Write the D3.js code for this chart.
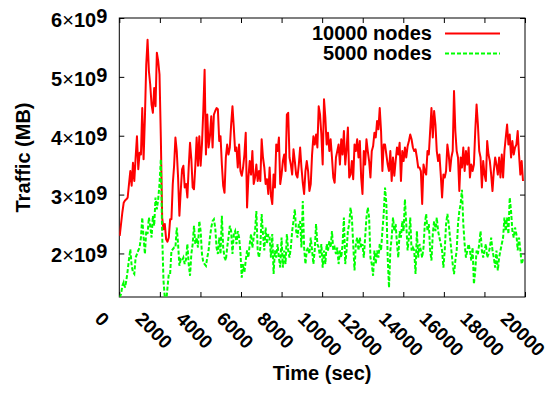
<!DOCTYPE html>
<html>
<head>
<meta charset="utf-8">
<script src="https://cdn.jsdelivr.net/npm/d3@7"></script>
<style>
  body { margin: 0; background: #fff; }
  text { font-family: "Liberation Sans", Arial, Helvetica, sans-serif; font-weight: bold; font-size: 20px; fill: #000; }
</style>
</head>
<body>
<div id="chart"></div>
<script>
// series names (legend order)
const seriesNames = ["10000 nodes", "5000 nodes"];
const xTicks = [0, 2000, 4000, 6000, 8000, 10000, 12000, 14000, 16000, 18000, 20000];
const yTicks = [2, 3, 4, 5, 6]; // x 10^9 MB

// samples are evenly spaced in time (sec)
const firstSample = 20, sampleStep = 65.4;

// traffic in units of 10^9 MB
const traffic10000 = [
  2.30, 2.50, 2.70, 2.86, 2.90, 2.92, 2.95, 3.18, 3.40, 3.15,
  3.54, 3.23, 3.63, 3.99, 3.43, 3.71, 3.68, 4.47, 3.60, 4.31,
  5.21, 5.63, 5.10, 4.87, 4.53, 4.39, 4.81, 4.50, 5.41, 5.27,
  5.04, 3.97, 2.61, 2.41, 2.50, 2.24, 2.20, 2.27, 2.58, 2.58,
  3.18, 3.49, 3.97, 3.74, 3.29, 2.64, 3.06, 3.43, 3.49, 3.12,
  3.18, 2.95, 3.46, 3.88, 3.60, 3.12, 3.09, 3.49, 3.97, 3.49,
  3.99, 3.49, 3.85, 4.42, 5.12, 3.68, 4.36, 3.80, 3.99, 4.33,
  3.80, 4.36, 4.42, 4.47, 4.45,
  3.91, 3.99, 3.51, 3.15, 3.03, 3.63, 3.85, 3.68, 3.80, 4.19,
  4.50, 4.14, 3.74, 3.80, 3.46, 3.85, 3.40, 3.32, 3.46, 3.68,
  4.05, 2.78, 3.29, 3.57, 3.34, 3.74, 3.18, 3.29, 3.51, 3.23,
  3.40, 3.23, 3.94, 3.63, 3.46, 3.18, 3.26, 3.01, 3.46, 2.98,
  2.84, 3.34, 3.12, 3.85, 3.74, 3.97, 3.18, 3.34, 3.57, 3.68,
  3.40, 4.36, 4.39, 3.63, 3.51, 3.34, 3.77, 3.57, 3.34, 3.29,
  3.51, 3.80, 3.46, 3.20, 3.01, 3.40, 3.57, 3.40, 3.06, 3.18,
  3.68, 3.99, 3.85, 4.02, 3.80, 4.50, 4.36,
  4.02, 3.51, 4.62, 4.31, 3.85, 4.05, 3.74, 3.94, 3.63, 3.29,
  3.20, 3.63, 3.74, 3.85, 3.51, 3.94, 3.68, 4.08, 3.51, 3.77,
  4.14, 3.29, 3.34, 3.57, 3.26, 3.85, 3.74, 3.94, 3.63, 3.91,
  3.29, 3.01, 3.74, 3.51, 3.94, 3.74, 3.57, 3.29, 3.74, 3.82,
  4.05, 3.97, 4.25, 4.11, 4.47, 4.08, 3.40, 3.85, 3.85, 3.68,
  3.51, 3.40, 3.74, 3.23, 3.63, 3.32, 3.57, 3.80, 3.68, 3.88,
  3.23, 3.74, 3.57, 3.80, 3.63, 3.82, 3.91, 4.02, 3.94, 3.80,
  3.74, 3.77, 3.63, 3.46, 3.46, 3.40, 2.84, 3.51,
  3.40, 3.34, 3.74, 3.68, 4.08, 4.47, 3.97, 4.42, 4.19, 3.74,
  3.57, 3.68, 3.34, 2.95, 3.34, 3.29, 3.40, 3.85, 3.68, 3.40,
  3.63, 3.74, 4.76, 4.08, 3.74, 3.63, 3.06, 3.63, 3.46, 3.80,
  3.40, 3.74, 3.51, 3.80, 3.29, 3.51, 3.40, 3.51, 4.08, 4.53,
  4.19, 3.74, 3.63, 3.12, 3.57, 3.34, 3.23, 3.91, 3.68, 3.57,
  3.34, 3.06, 3.40, 3.63, 3.51, 3.34, 3.63, 3.29, 3.68, 3.29,
  3.74, 3.97, 4.19, 3.85, 4.02, 3.63, 3.91, 3.68, 3.80, 3.85,
  4.08, 3.68, 3.34, 3.57, 3.23
];
const traffic5000 = [
  1.25, 1.31, 1.45, 1.51, 1.42, 1.54, 1.71, 1.90, 2.07, 1.79,
  1.68, 1.65, 1.93, 1.99, 2.05, 2.10, 2.27, 2.61, 2.27, 1.99,
  2.38, 2.33, 2.61, 2.47, 2.27, 2.64, 2.47, 2.95, 2.75, 2.92,
  3.18, 3.60, 2.33, 1.54, 1.25, 1.15, 1.42, 1.65, 1.65, 2.05,
  2.07, 2.10, 2.10, 2.44, 2.16, 1.79, 1.90, 1.88, 1.93, 1.82,
  1.90, 2.16, 1.82, 1.62, 1.99, 2.16, 2.47, 2.16, 2.27, 2.10,
  2.55, 2.38, 1.99, 1.85, 1.82, 1.79, 1.93, 2.05, 2.27, 2.44,
  2.55, 2.58, 2.44, 2.10, 1.99,
  2.27, 1.99, 2.64, 2.10, 1.93, 1.88, 2.10, 2.27, 2.47, 2.38,
  1.99, 2.33, 2.38, 2.16, 2.38, 2.27, 2.02, 1.59, 1.82, 1.68,
  1.88, 2.05, 1.93, 2.16, 2.33, 2.10, 2.27, 2.38, 2.72, 2.05,
  1.93, 2.10, 2.67, 2.33, 2.05, 2.44, 2.16, 2.33, 2.27, 1.93,
  2.33, 1.65, 2.05, 1.93, 2.16, 1.93, 1.76, 2.27, 1.76, 2.05,
  1.82, 2.33, 2.05, 1.93, 2.10, 2.38, 2.55, 2.75, 2.38, 2.27,
  2.50, 2.55, 2.10, 2.89, 2.10, 1.82, 2.05, 2.10, 1.99, 2.27,
  2.05, 1.82, 2.05, 2.50, 2.16, 2.10, 1.93,
  2.16, 1.76, 2.05, 1.82, 2.16, 2.05, 2.21, 2.10, 2.38, 2.05,
  2.10, 1.99, 2.10, 1.82, 2.05, 1.93, 2.16, 2.61, 1.82, 2.05,
  2.38, 2.50, 2.78, 2.61, 2.16, 1.71, 2.16, 2.27, 2.05, 2.27,
  2.10, 2.16, 1.93, 2.27, 2.61, 2.78, 2.61, 1.93, 1.82, 1.62,
  2.05, 1.82, 2.05, 1.93, 2.16, 2.05, 2.38, 2.67, 3.12, 2.84,
  1.93, 1.42, 2.05, 2.27, 2.61, 2.38, 2.50, 2.16, 1.93, 2.38,
  2.27, 2.55, 2.38, 2.92, 2.50, 2.05, 2.27, 2.61, 2.05, 2.10,
  2.05, 1.65, 2.38, 1.93, 2.16, 2.05, 1.93, 2.10,
  2.50, 2.67, 2.38, 2.50, 2.05, 1.88, 2.33, 2.55, 2.38, 2.61,
  2.38, 2.27, 2.16, 2.05, 1.76, 2.05, 2.50, 2.67, 2.50, 2.27,
  2.05, 1.82, 1.65, 1.88, 2.05, 2.50, 2.72, 2.84, 3.08, 2.50,
  2.16, 1.93, 2.05, 2.16, 2.05, 1.88, 2.10, 1.48, 1.71, 2.05,
  1.99, 2.16, 2.38, 2.05, 1.93, 2.05, 2.16, 1.93, 1.99, 2.10,
  2.27, 2.05, 1.93, 1.76, 2.05, 1.71, 1.93, 2.05, 2.16, 2.27,
  2.61, 2.38, 2.61, 2.33, 2.95, 2.72, 2.38, 2.27, 2.44, 2.33,
  2.05, 2.27, 2.05, 1.82, 1.90
];

// set the dimensions and margins of the graph
const margin = { top: 18, right: 25, bottom: 102, left: 119.3 };
const width = 550 - margin.left - margin.right;
const height = 399 - margin.top - margin.bottom;

const svg = d3.select("#chart")
  .append("svg")
  .attr("width", 550)
  .attr("height", 399)
  .append("g")
  .attr("transform", "translate(" + margin.left + "," + margin.top + ")");

const x = d3.scaleLinear().domain([0, 20000]).range([0, width]);
const y = d3.scaleLinear().domain([1.26, 6]).range([height, 0]);

svg.append("clipPath").attr("id", "plotArea")
  .append("rect").attr("width", width).attr("height", height);

// ticks on all four sides, pointing inwards
const tickLen = 5;
const xBottom = svg.append("g")
  .attr("transform", "translate(0," + height + ")")
  .call(d3.axisBottom(x).tickValues(xTicks).tickFormat(d3.format("d")).tickSizeInner(-tickLen).tickSizeOuter(0));
svg.append("g")
  .call(d3.axisTop(x).tickValues(xTicks).tickSizeInner(-tickLen).tickSizeOuter(0).tickFormat(""));
const yLeft = svg.append("g")
  .call(d3.axisLeft(y).tickValues(yTicks).tickSizeInner(-tickLen).tickSizeOuter(0));
svg.append("g")
  .attr("transform", "translate(" + width + ",0)")
  .call(d3.axisRight(y).tickValues(yTicks).tickSizeInner(-tickLen).tickSizeOuter(0).tickFormat(""));
svg.selectAll(".domain").remove();
svg.selectAll(".tick line").attr("stroke", "#000").attr("stroke-width", 1);

// rotated x tick labels
xBottom.selectAll(".tick text")
  .attr("y", null).attr("dy", null)
  .attr("text-anchor", "start")
  .attr("transform", "translate(-26,23) rotate(45)")
  .style("font-size", "19px");

// y tick labels as N×10^9
yLeft.selectAll(".tick text").each(function (d) {
  const t = d3.select(this);
  t.text(null).attr("x", -12).attr("dy", "8.5").attr("text-anchor", "end").style("font-size", "20px");
  t.append("tspan").text(d);
  t.append("tspan").style("font-weight", "normal").text("\u00d7");
  t.append("tspan").text("10");
  t.append("tspan").attr("dy", -4).text("9");
});

// frame
svg.append("rect")
  .attr("width", width).attr("height", height)
  .attr("fill", "none").attr("stroke", "#000").attr("stroke-width", 1);

// lines
const line = d3.line()
  .x(function (d, i) { return x(firstSample + i * sampleStep); })
  .y(function (d) { return y(d); });

const plot = svg.append("g").attr("clip-path", "url(#plotArea)");
plot.append("path").datum(traffic10000)
  .attr("d", line).attr("fill", "none")
  .attr("stroke", "#ff0000").attr("stroke-width", 2).attr("stroke-linejoin", "round");
plot.append("path").datum(traffic5000)
  .attr("d", line).attr("fill", "none")
  .attr("stroke", "#00ff00").attr("stroke-width", 2).attr("stroke-dasharray", "4,2");

// legend
const legendColors = ["#ff0000", "#00ff00"];
const legendDash = [null, "4,2"];
seriesNames.forEach(function (name, i) {
  const ly = 15.5 + i * 20;
  svg.append("text")
    .attr("x", 432 - margin.left).attr("y", ly + 6.5)
    .attr("text-anchor", "end")
    .text(name);
  svg.append("line")
    .attr("x1", 445 - margin.left).attr("x2", 500 - margin.left)
    .attr("y1", ly).attr("y2", ly)
    .attr("stroke", legendColors[i]).attr("stroke-width", 2)
    .attr("stroke-dasharray", legendDash[i]);
});

// axis labels
svg.append("text")
  .attr("x", width / 2).attr("y", 380 - margin.top)
  .attr("text-anchor", "middle")
  .text("Time (sec)");
svg.append("text")
  .attr("transform", "translate(" + (30 - margin.left) + "," + (height / 2) + ") rotate(-90)")
  .attr("text-anchor", "middle")
  .text("Traffic (MB)");
</script>
</body>
</html>
